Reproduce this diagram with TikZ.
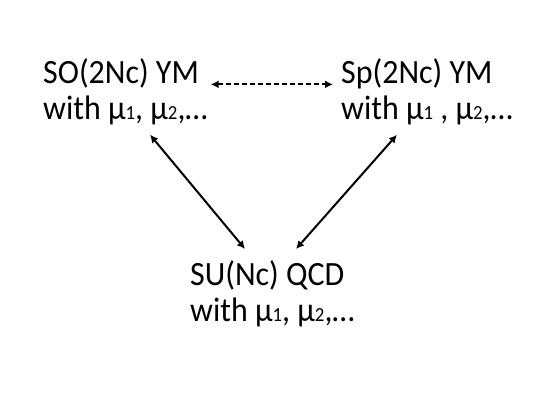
\documentclass[tikz,border=0pt]{standalone}
\usepackage{fontspec}
\setmainfont[FakeStretch=0.94]{Carlito}
\usetikzlibrary{arrows.meta}
\newcommand{\idx}[1]{{\fontsize{20}{20}\selectfont #1}}

\begin{document}
\begin{tikzpicture}[
        x=1pt,y=-1pt,
        theory/.style={anchor=north west,inner sep=0pt,align=left,font=\fontsize{34}{36}\selectfont},
        dual/.style={{Latex[length=8pt,width=8pt]}-{Latex[length=8pt,width=8pt]},line width=2pt},
        dashdual/.style={dual,dash pattern=on 5pt off 3pt}
      ]
      \useasboundingbox (0,0) rectangle (545,409);

      \node[theory] (so) at (43,58) {SO(2Nc) YM\\with µ\idx{1}, µ\idx{2},…};
      \node[theory] (sp) at (341,58) {Sp(2Nc) YM\\with µ\idx{1} , µ\idx{2},…};
      \node[theory] (su) at (190,260) {SU(Nc) QCD\\with µ\idx{1}, µ\idx{2},…};

      \draw[dashdual] ([shift={(3,-7)}]so.east) -- ([shift={(-8,-7)}]sp.west);
      \draw[dual] ([shift={(107,10)}]so.south west) -- ([shift={(55,-11)}]su.north west);
      \draw[dual] ([shift={(56,10)}]sp.south west) -- ([shift={(106,-11)}]su.north west);
    \end{tikzpicture}
\end{document}
